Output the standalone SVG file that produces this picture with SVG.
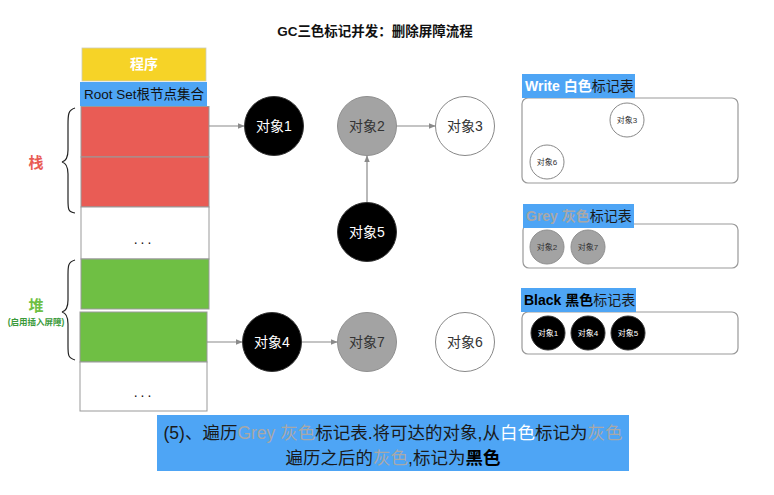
<svg xmlns="http://www.w3.org/2000/svg" width="774" height="495" viewBox="0 0 774 495">
<defs>
<style>
text{font-family:"Liberation Sans","Noto Sans CJK SC",sans-serif;}
.cell{stroke:#999;stroke-width:1;}
.red{fill:#e95c55;}
.green{fill:#6fbf44;}
.white{fill:#fff;}
.conn{stroke:#8a8a8a;stroke-width:1.2;fill:none;}
.brace{stroke:#222;stroke-width:1.2;fill:none;}
.blk{fill:#000;stroke:#333;stroke-width:1;}
.gry{fill:#a3a3a3;stroke:#8f8f8f;stroke-width:1;}
.wht{fill:#fff;stroke:#888;stroke-width:1;}
.nt{font-size:14px;text-anchor:middle;dominant-baseline:central;}
.st{font-size:8px;text-anchor:middle;dominant-baseline:central;}
.tbl{fill:#fff;stroke:#999;stroke-width:1.2;}
.lbl{fill:#4ea5f5;}
.lt{font-size:14px;}
</style>
<marker id="arr" viewBox="0 0 10 10" refX="9" refY="5" markerWidth="6" markerHeight="6" orient="auto">
<path d="M0,1 L10,5 L0,9 z" fill="#8a8a8a"/>
</marker>
</defs>
<rect width="774" height="495" fill="#fff"/>

<text x="375" y="36" font-size="13.5" font-weight="bold" text-anchor="middle" fill="#111">GC三色标记并发：删除屏障流程</text>

<g id="program">
<rect x="82" y="48" width="124" height="33" fill="#f6d327" stroke="#ccb" stroke-width="0.8"/>
<text x="144" y="69" font-size="14" font-weight="bold" fill="#fff" text-anchor="middle">程序</text>
</g>
<g id="rootset">
<rect x="80" y="82" width="127" height="24" fill="#4ea5f5"/>
<text x="144" y="99" font-size="13.5" fill="#111" text-anchor="middle">Root Set根节点集合</text>
</g>
<g id="stack">
<rect class="cell red" x="81" y="106.5" width="128" height="50.5"/>
<rect class="cell red" x="81" y="157" width="128" height="50"/>
<rect class="cell white" x="81" y="207" width="128" height="52"/>
<text x="144" y="244" font-size="14" fill="#111" text-anchor="middle" letter-spacing="3">...</text>
</g>
<g id="heap">
<rect class="cell green" x="81" y="259" width="128" height="50"/>
<rect class="cell green" x="80" y="312" width="127" height="50"/>
<rect class="cell white" x="80" y="362" width="127" height="49"/>
<text x="144" y="397" font-size="14" fill="#111" text-anchor="middle" letter-spacing="3">...</text>
</g>
<g id="stack-label">
<path class="brace" d="M75,108 C68,110 68,115 68,125 L68,150 C68,158 66,161 62,162 C66,163 68,166 68,174 L68,200 C68,209 68,212 75,213"/>
<text x="36" y="168" font-size="15" font-weight="bold" fill="#e95c55" text-anchor="middle">栈</text>
</g>
<g id="heap-label">
<path class="brace" d="M75,260 C68,262 68,266 68,275 L68,300 C68,308 66,311 62,312 C66,313 68,316 68,324 L68,346 C68,355 68,358 75,360"/>
<text x="36" y="311" font-size="15" font-weight="bold" fill="#6fbf44" text-anchor="middle">堆</text>
<text x="36" y="325" font-size="8.5" font-weight="bold" fill="#3a9a3a" text-anchor="middle">(启用插入屏障)</text>
</g>

<g id="connectors">
<line class="conn" x1="209" y1="126" x2="244" y2="126" marker-end="url(#arr)"/>
<line class="conn" x1="207" y1="342" x2="242" y2="342" marker-end="url(#arr)"/>
<line class="conn" x1="397" y1="126" x2="435" y2="126" marker-end="url(#arr)"/>
<line class="conn" x1="367" y1="202" x2="367" y2="156" marker-end="url(#arr)"/>
<line class="conn" x1="302" y1="342" x2="337" y2="342" marker-end="url(#arr)"/>
</g>

<g id="obj1"><circle class="blk" cx="274" cy="126" r="29.5"/><text class="nt" x="274" y="126" fill="#fff">对象1</text></g>
<g id="obj2"><circle class="gry" cx="367" cy="126" r="29.5"/><text class="nt" x="367" y="126" fill="#333">对象2</text></g>
<g id="obj3"><circle class="wht" cx="465" cy="126" r="29.5"/><text class="nt" x="465" y="126" fill="#333">对象3</text></g>
<g id="obj5"><circle class="blk" cx="367" cy="232" r="29.5"/><text class="nt" x="367" y="232" fill="#fff">对象5</text></g>
<g id="obj4"><circle class="blk" cx="272" cy="342" r="29.5"/><text class="nt" x="272" y="342" fill="#fff">对象4</text></g>
<g id="obj7"><circle class="gry" cx="367" cy="342" r="29.5"/><text class="nt" x="367" y="342" fill="#333">对象7</text></g>
<g id="obj6"><circle class="wht" cx="465" cy="342" r="29.5"/><text class="nt" x="465" y="342" fill="#333">对象6</text></g>

<g id="white-table">
<rect class="tbl" x="522" y="98" width="216" height="85" rx="6"/>
<rect class="lbl" x="522" y="74" width="113" height="24"/>
<text class="lt" x="525" y="91"><tspan fill="#fff" font-weight="bold">Write 白色</tspan><tspan fill="#1a1a1a">标记表</tspan></text>
<circle class="wht" cx="627" cy="120" r="17"/><text class="st" x="627" y="120" fill="#333">对象3</text>
<circle class="wht" cx="547" cy="162" r="17"/><text class="st" x="547" y="162" fill="#333">对象6</text>
</g>
<g id="grey-table">
<rect class="tbl" x="523" y="224" width="215" height="44" rx="6"/>
<rect class="lbl" x="523" y="204" width="111" height="24"/>
<text class="lt" x="526" y="221"><tspan fill="#a8a8a8" font-weight="bold">Grey 灰色</tspan><tspan fill="#1a1a1a">标记表</tspan></text>
<circle class="gry" cx="547" cy="247" r="17"/><text class="st" x="547" y="247" fill="#333">对象2</text>
<circle class="gry" cx="588" cy="247" r="17"/><text class="st" x="588" y="247" fill="#333">对象7</text>
</g>
<g id="black-table">
<rect class="tbl" x="522" y="312" width="216" height="42" rx="6"/>
<rect class="lbl" x="521" y="288" width="115" height="24"/>
<text class="lt" x="524" y="305"><tspan fill="#000" font-weight="bold">Black 黑色</tspan><tspan fill="#1a1a1a">标记表</tspan></text>
<circle class="blk" cx="548" cy="333" r="17"/><text class="st" x="548" y="333" fill="#fff">对象1</text>
<circle class="blk" cx="588" cy="333" r="17"/><text class="st" x="588" y="333" fill="#fff">对象4</text>
<circle class="blk" cx="628" cy="333" r="17"/><text class="st" x="628" y="333" fill="#fff">对象5</text>
</g>

<g id="caption">
<rect x="157" y="415" width="472" height="56" fill="#4ea5f5"/>
<text x="393" y="439" font-size="17.5" text-anchor="middle" fill="#1a1a1a">(5)、遍历<tspan fill="#a8a8a8">Grey 灰色</tspan>标记表.将可达的对象,从<tspan fill="#fff">白色</tspan>标记为<tspan fill="#a8a8a8">灰色</tspan></text>
<text x="393" y="464" font-size="17.5" text-anchor="middle" fill="#1a1a1a">遍历之后的<tspan fill="#a8a8a8">灰色</tspan>,标记为<tspan fill="#000" font-weight="bold">黑色</tspan></text>
</g>
</svg>
